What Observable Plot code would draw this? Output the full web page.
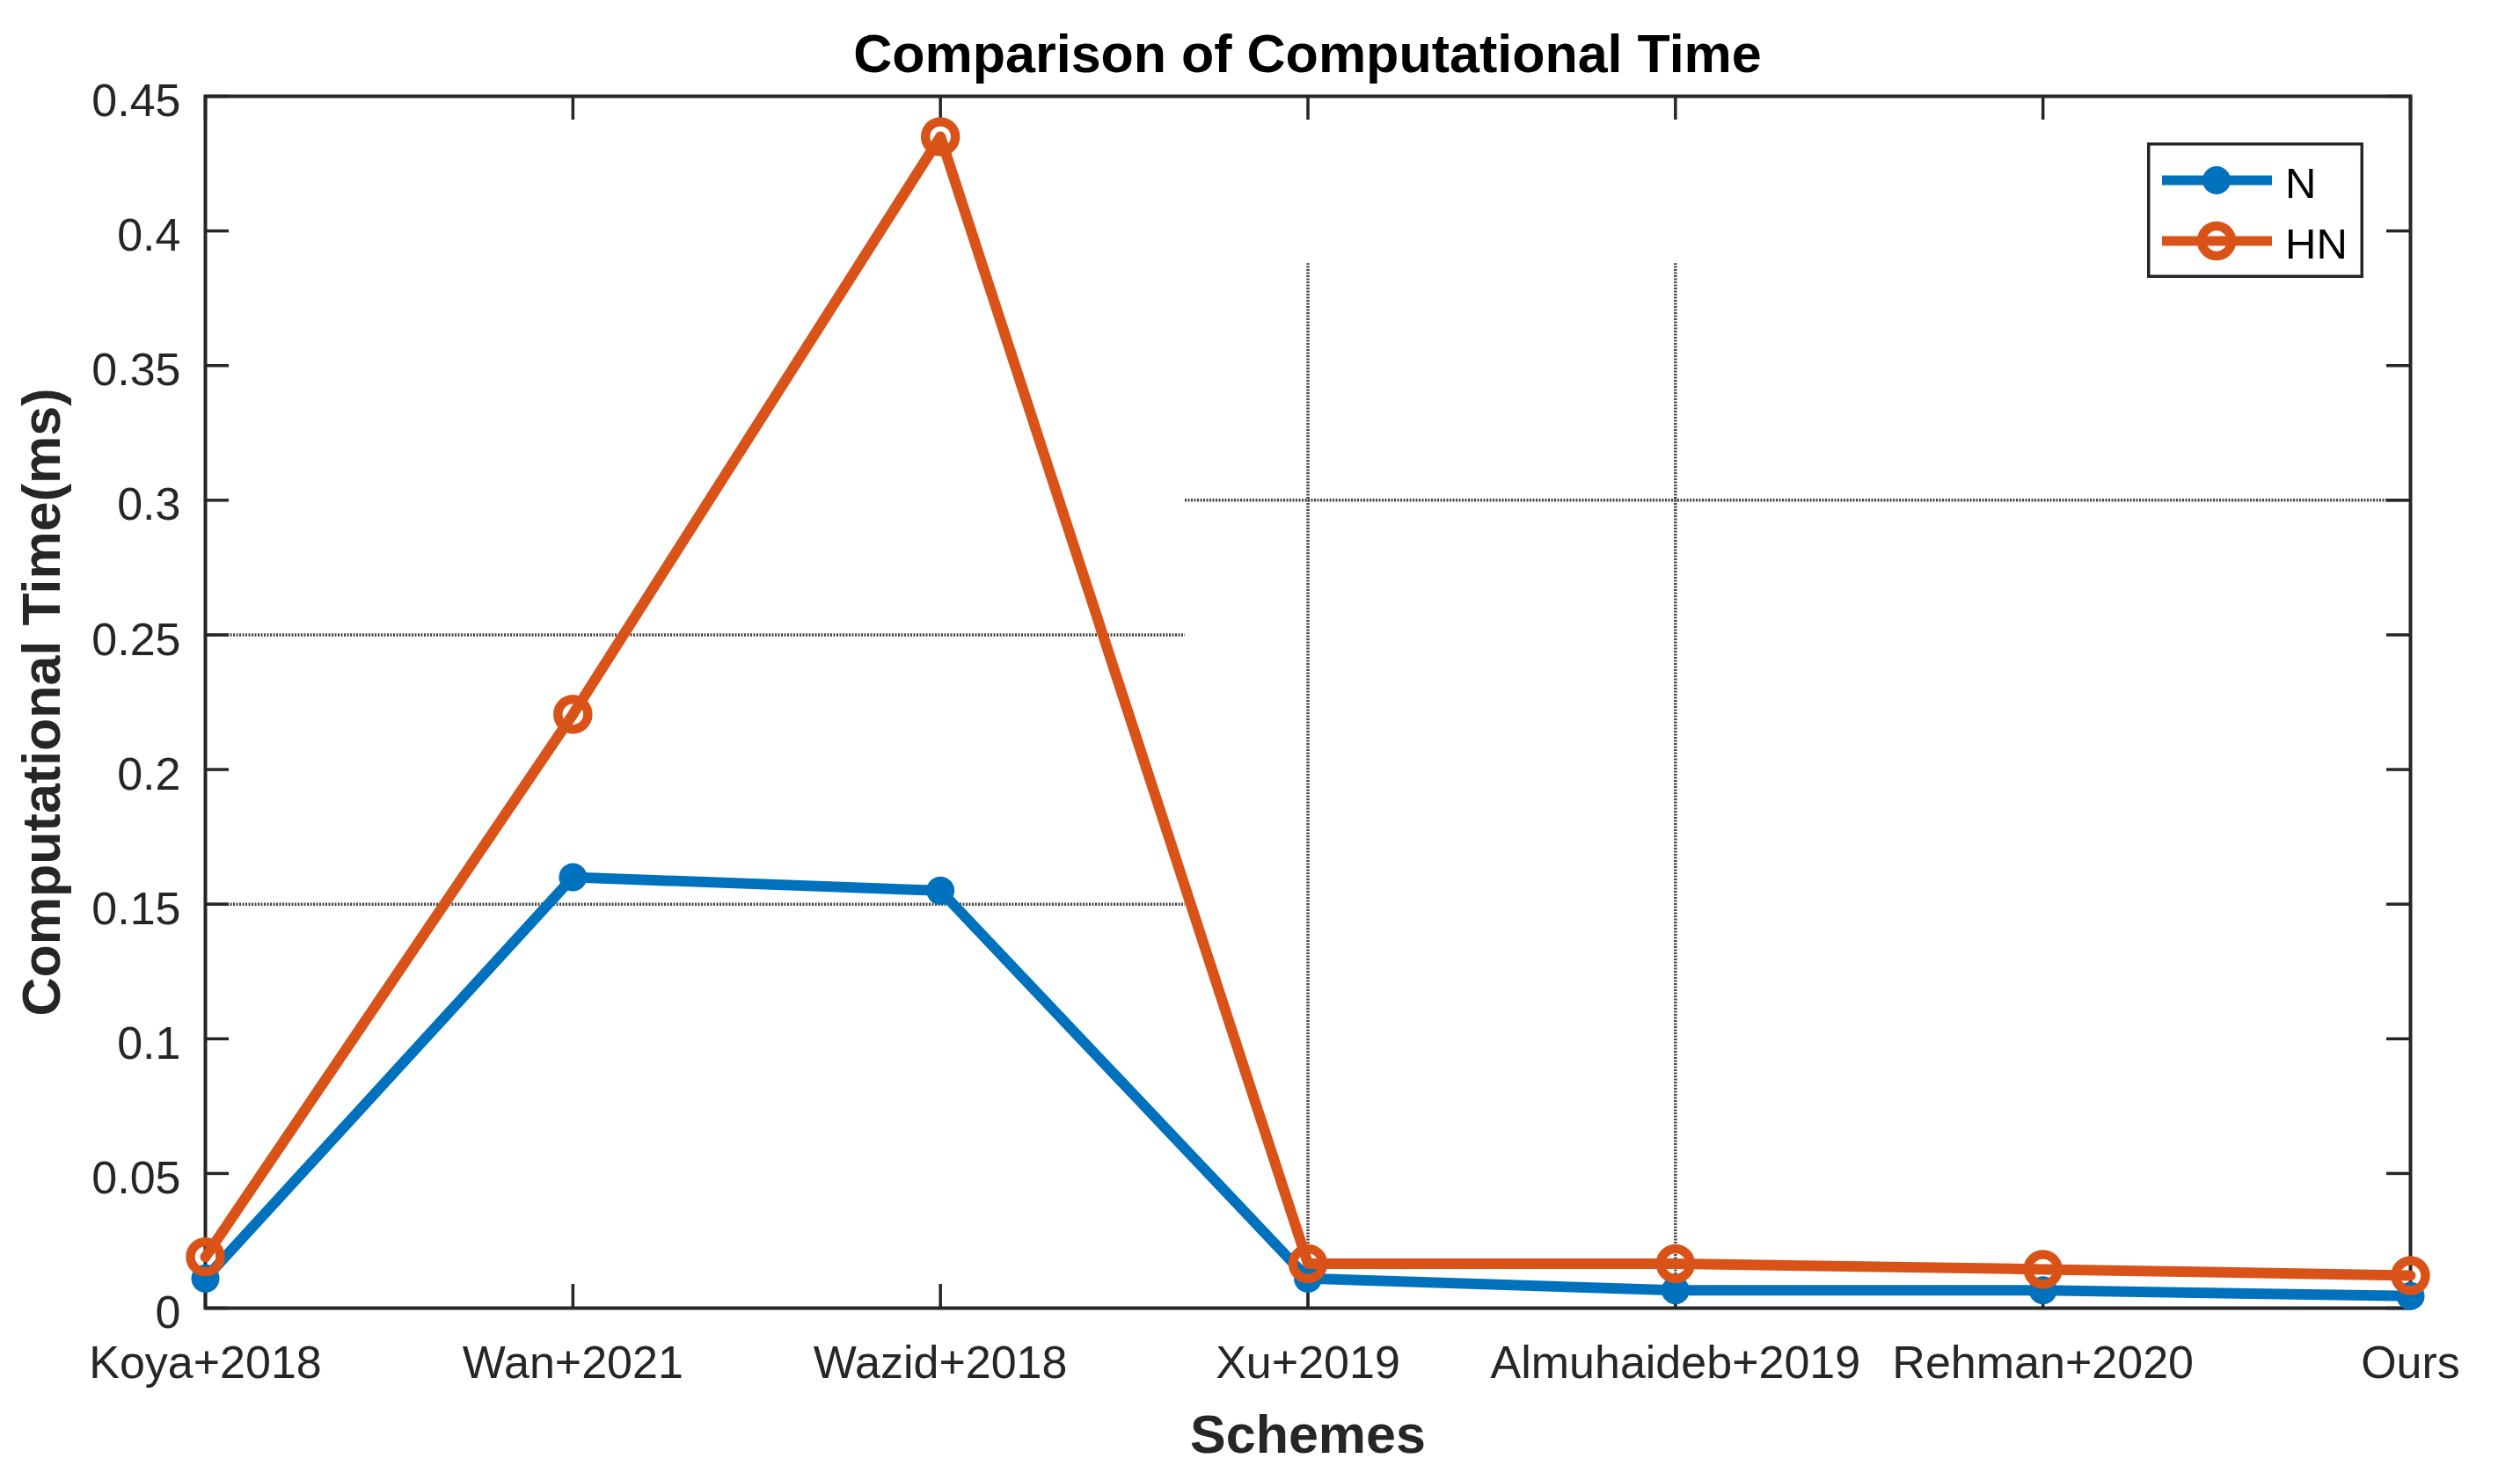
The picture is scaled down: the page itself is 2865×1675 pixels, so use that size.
<!DOCTYPE html>
<html>
<head>
<meta charset="utf-8">
<script src="https://cdn.jsdelivr.net/npm/d3@7"></script>
<script src="https://cdn.jsdelivr.net/npm/@observablehq/plot@0.6"></script>
<style>
  html, body { margin: 0; padding: 0; background: #fff; }
  #wrap { position: relative; width: 2865px; height: 1675px; font-family: "Liberation Sans", Arial, sans-serif; }
  #title { height: 80px; box-sizing: border-box; padding-top: 31px; padding-left: 108px; line-height: 61px;
           font-size: 61px; font-weight: bold; text-align: center; color: #000; white-space: nowrap; }
  #legend { position: absolute; left: 2441px; top: 162px; }
</style>
</head>
<body>
<div id="wrap">
  <div id="title">Comparison of Computational Time</div>
  <div id="chart"></div>
  <div id="legend"></div>
</div>
<script>
// ---- data ----
const categories = ["Koya+2018", "Wan+2021", "Wazid+2018", "Xu+2019", "Almuhaideb+2019", "Rehman+2020", "Ours"];
const seriesNames = ["N", "HN"];
const nValues  = [0.011, 0.160, 0.155, 0.011, 0.0066, 0.0066, 0.0045];
const hnValues = [0.019, 0.2205, 0.435, 0.0165, 0.0165, 0.0144, 0.0121];
const yTicks = [0, 0.05, 0.1, 0.15, 0.2, 0.25, 0.3, 0.35, 0.4, 0.45];
const yTickLabels = ["0", "0.05", "0.1", "0.15", "0.2", "0.25", "0.3", "0.35", "0.4", "0.45"];
// partial reference lines drawn in the original figure (data coordinates)
const refLinesLeftY = [0.25, 0.15];
const refLinesRightY = [0.3];
const refSplitX = 2.665;
const refLinesX = [3, 4];
const refLinesXTop = 0.388;

const colors = ["#0072BD", "#D95319"];
const ink = "#262626";

const xIdx = categories.map((c, i) => i);
const nData = categories.map((c, i) => ({i, v: nValues[i]}));
const hnData = categories.map((c, i) => ({i, v: hnValues[i]}));
const hRefs = [
  ...refLinesLeftY.map(y => ({y, x1: 0, x2: refSplitX})),
  ...refLinesRightY.map(y => ({y, x1: refSplitX, x2: categories.length - 1}))
];
const vRefs = refLinesX.map(x => ({x, y1: 0, y2: refLinesXTop}));

const W = 2865, H = 1595;
const mL = 233, mR = 125, mT = 29, mB = 188;
const frameW = W - mL - mR, frameH = H - mT - mB;
const tickLen = 27;

const chart = Plot.plot({
  width: W, height: H,
  marginLeft: mL, marginRight: mR, marginTop: mT, marginBottom: mB,
  style: {fontFamily: '"Liberation Sans", Arial, sans-serif', color: ink, background: "#fff", overflow: "visible"},
  x: {type: "linear", domain: [0, categories.length - 1]},
  y: {type: "linear", domain: [0, 0.45]},
  marks: [
    // dotted reference lines
    Plot.link(hRefs, {x1: "x1", x2: "x2", y1: "y", y2: "y", stroke: "#444", strokeWidth: 3.5, strokeDasharray: "2,1.5"}),
    Plot.link(vRefs, {x1: "x", x2: "x", y1: "y1", y2: "y2", stroke: "#444", strokeWidth: 3.5, strokeDasharray: "2,1.5"}),
    // axes text
    Plot.axisX(xIdx, {anchor: "bottom", tickSize: 0, tickPadding: 43, fontSize: 52, label: null,
      tickFormat: i => categories[i], fill: ink}),
    Plot.axisY(yTicks, {anchor: "left", tickSize: 0, tickPadding: 28, fontSize: 52, label: null, dy: 6,
      tickFormat: (d) => yTickLabels[yTicks.indexOf(d)], fill: ink}),
    // inward ticks on all four sides
    Plot.tickY(yTicks, {y: d => d, insetRight: frameW - tickLen, stroke: ink, strokeWidth: 3.5}),
    Plot.tickY(yTicks, {y: d => d, insetLeft: frameW - tickLen, stroke: ink, strokeWidth: 3.5}),
    Plot.tickX(xIdx, {x: d => d, insetTop: frameH - tickLen, stroke: ink, strokeWidth: 3.5}),
    Plot.tickX(xIdx, {x: d => d, insetBottom: frameH - tickLen, stroke: ink, strokeWidth: 3.5}),
    Plot.frame({stroke: ink, strokeWidth: 4}),
    // axis titles
    Plot.text(["Computational Time(ms)"], {text: d => d, frameAnchor: "left", rotate: -90, dx: -185,
      textAnchor: "middle", lineAnchor: "middle", fontSize: 61, fontWeight: "bold", fill: ink}),
    Plot.text(["Schemes"], {text: d => d, frameAnchor: "bottom", dy: 145, textAnchor: "middle", lineAnchor: "middle",
      fontSize: 61, fontWeight: "bold", fill: ink}),
    // series N
    Plot.line(nData, {x: "i", y: "v", stroke: colors[0], strokeWidth: 12, strokeLinejoin: "round"}),
    Plot.dot(nData, {x: "i", y: "v", r: 16, fill: colors[0], stroke: "none"}),
    // series HN
    Plot.line(hnData, {x: "i", y: "v", stroke: colors[1], strokeWidth: 12, strokeLinejoin: "round"}),
    Plot.dot(hnData, {x: "i", y: "v", r: 17, fill: "none", stroke: colors[1], strokeWidth: 10.5})
  ]
});
document.getElementById("chart").appendChild(chart);

// ---- legend ----
const lg = d3.select("#legend").append("svg").attr("width", 246).attr("height", 154)
  .style("font-family", '"Liberation Sans", Arial, sans-serif').style("display", "block");
lg.append("rect").attr("x", 1.75).attr("y", 1.75).attr("width", 242.5).attr("height", 150.5)
  .attr("fill", "#fff").attr("stroke", ink).attr("stroke-width", 3.5);
const rows = [43, 112];
seriesNames.forEach((name, k) => {
  const g = lg.append("g").attr("transform", `translate(0,${rows[k]})`);
  g.append("line").attr("x1", 17).attr("x2", 142).attr("y1", 0).attr("y2", 0)
    .attr("stroke", colors[k]).attr("stroke-width", 11);
  if (k === 0) g.append("circle").attr("cx", 79).attr("cy", 0).attr("r", 16).attr("fill", colors[k]);
  else g.append("circle").attr("cx", 79).attr("cy", 0).attr("r", 17).attr("fill", "none")
    .attr("stroke", colors[k]).attr("stroke-width", 10.5);
  g.append("text").attr("x", 157).attr("y", 20).attr("font-size", 49).attr("fill", "#000").text(name);
});
</script>
</body>
</html>
